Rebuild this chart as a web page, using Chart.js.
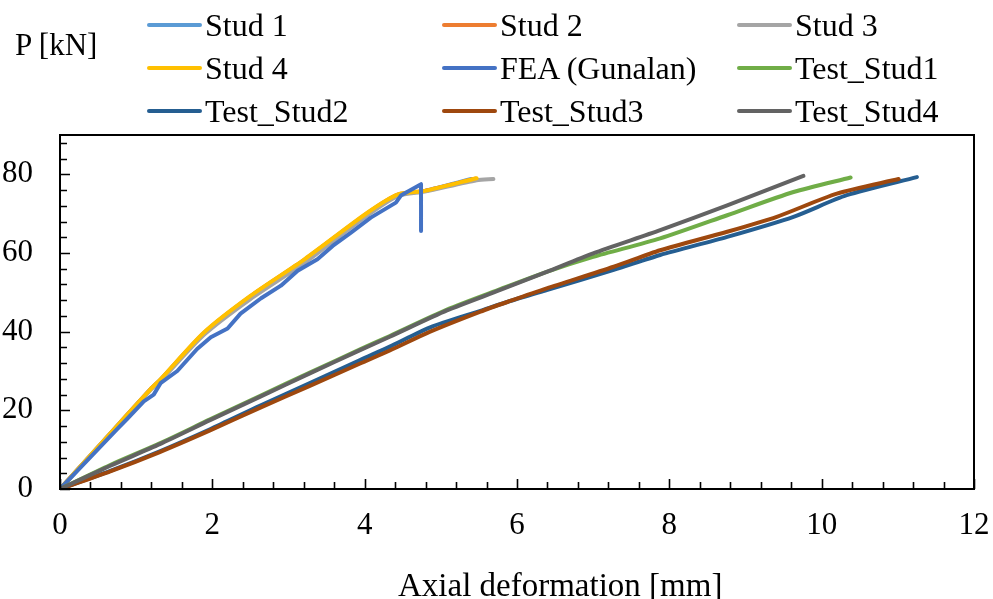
<!DOCTYPE html>
<html lang="en">
<head>
    <meta charset="UTF-8">
    <title>Axial load vs deformation</title>
    <script src="https://cdn.jsdelivr.net/npm/chart.js"></script>
    <style>
        body { margin: 0; background: #fff; }
        .wrap { position: relative; width: 993px; height: 599px; font-family: 'Liberation Serif', 'Times New Roman', serif; color: #000; }
        .txt { position: absolute; white-space: nowrap; }
        .item { position: absolute; height: 32px; display: flex; align-items: center; font-size: 32px; }
        .item span.ln { display: inline-block; width: 55px; height: 4px; border-radius: 2px; margin-right: 3px; }
    </style>
</head>
<body>
    <div class="wrap">
        <canvas id="chart"></canvas>
        <div class="txt" style="left:15px; top:29px; font-size:31px; line-height:31px;">P [kN]</div>
        <div class="txt" style="left:398px; top:569px; font-size:33px; line-height:33px;">Axial deformation [mm]</div>
        <div id="legend"></div>
    </div>

    <script>
        // series names and colours (Excel order)
        const seriesNames = ['Stud 1', 'Stud 2', 'Stud 3', 'Stud 4', 'FEA (Gunalan)', 'Test_Stud1', 'Test_Stud2', 'Test_Stud3', 'Test_Stud4'];
        const seriesColors = ['#5B9BD5', '#ED7D31', '#A5A5A5', '#FFC000', '#4472C4', '#70AD47', '#255E91', '#9E480E', '#636363'];

        // axial deformation [mm] / load P [kN]
        const stud1X = [0, 0.79, 1.19, 1.32, 1.89, 2.50, 3.21, 4.04, 4.44, 4.79, 5.40];
        const stud1Y = [0, 16.9, 25.4, 27.8, 39.6, 48.9, 58.2, 70.1, 74.8, 75.8, 78.8];
        const stud2X = [0, 0.79, 1.19, 1.32, 1.89, 2.50, 3.21, 4.04, 4.44, 4.79, 5.45];
        const stud2Y = [0, 16.9, 25.4, 27.8, 39.7, 49.0, 58.3, 70.2, 74.9, 75.8, 78.9];
        const stud3X = [0, 0.79, 1.19, 1.32, 1.89, 2.50, 3.21, 4.04, 4.44, 4.79, 5.47, 5.69];
        const stud3Y = [0, 16.8, 25.2, 27.5, 39.2, 48.3, 57.5, 69.6, 74.5, 75.6, 78.5, 78.8];
        const stud4X = [0, 0.79, 1.19, 1.32, 1.89, 2.50, 3.21, 4.04, 4.44, 4.79, 5.47];
        const stud4Y = [0, 16.9, 25.4, 27.9, 39.8, 49.1, 58.4, 70.3, 74.9, 75.8, 79.0];
        const feaX = [0, 0.75, 0.88, 1.10, 1.23, 1.32, 1.54, 1.80, 1.98, 2.20, 2.37, 2.64, 2.90, 3.12, 3.38, 3.58, 3.82, 4.08, 4.41, 4.48, 4.74, 4.74];
        const feaY = [0, 15.2, 17.8, 22.3, 24.0, 26.9, 30.0, 35.6, 38.6, 40.8, 44.6, 48.5, 51.7, 55.5, 58.4, 61.8, 65.2, 69.0, 72.8, 74.7, 77.5, 65.6];
        const test1X = [0, 0.66, 1.31, 1.97, 2.63, 3.28, 3.94, 4.33, 5.08, 5.78, 6.39, 7.0, 7.88, 8.76, 9.63, 10.38];
        const test1Y = [0, 6.1, 11.6, 17.7, 23.7, 29.6, 35.5, 38.9, 45.6, 50.8, 55.2, 59.0, 63.7, 69.6, 75.5, 79.2];
        const test2X = [0, 0.66, 1.31, 1.97, 2.63, 3.28, 3.94, 4.33, 4.86, 5.52, 5.91, 6.39, 7.27, 7.88, 8.76, 9.63, 10.33, 11.25];
        const test2Y = [0, 4.6, 9.6, 15.2, 21.2, 26.9, 32.8, 36.2, 41.1, 45.3, 47.8, 50.6, 55.7, 59.5, 64.1, 69.2, 74.7, 79.3];
        const test3X = [0, 0.66, 1.31, 1.97, 2.63, 3.28, 3.94, 4.33, 4.86, 5.52, 5.91, 6.39, 7.27, 7.88, 8.76, 9.41, 10.2, 11.01];
        const test3Y = [0, 4.5, 9.4, 14.9, 20.7, 26.2, 31.9, 35.2, 40.0, 45.1, 47.8, 51.0, 56.5, 60.7, 65.4, 69.2, 75.1, 78.8];
        const test4X = [0, 0.66, 1.31, 1.97, 2.63, 3.28, 3.94, 4.33, 5.08, 5.78, 6.39, 7.0, 7.88, 8.76, 9.76];
        const test4Y = [0, 5.9, 11.4, 17.5, 23.5, 29.4, 35.3, 38.7, 45.4, 50.6, 55.2, 59.9, 65.8, 72.1, 79.6];

        // axis ticks
        const xTicks = [0, 2, 4, 6, 8, 10, 12];
        const yTicks = [0, 20, 40, 60, 80];
        const xMinor = 0.4;
        const yMinor = 4;

        const seriesX = [stud1X, stud2X, stud3X, stud4X, feaX, test1X, test2X, test3X, test4X];
        const seriesY = [stud1Y, stud2Y, stud3Y, stud4Y, feaY, test1Y, test2Y, test3Y, test4Y];

        const datasets = seriesNames.map((name, i) => ({
            label: name,
            data: seriesX[i].map((x, j) => ({ x: x, y: seriesY[i][j] })),
            borderColor: seriesColors[i],
            backgroundColor: seriesColors[i],
            borderWidth: 4,
            borderCapStyle: 'round',
            borderJoinStyle: 'round',
            pointRadius: 0,
            showLine: true,
            tension: name.startsWith('FEA') ? 0 : 0.25,
            order: seriesNames.length - i   // later series on top, like Excel
        }));

        // legend in 3 columns
        const legend = document.getElementById('legend');
        seriesNames.forEach((name, i) => {
            const el = document.createElement('div');
            el.className = 'item';
            el.style.left = (147 + (i % 3) * 295) + 'px';
            el.style.top = (9 + Math.floor(i / 3) * 43) + 'px';
            el.innerHTML = '<span class="ln" style="background:' + seriesColors[i] + '"></span>' + name;
            legend.appendChild(el);
        });

        // frame + inward tick marks
        const frameTicks = {
            id: 'frameTicks',
            afterDatasetsDraw(chart) {
                const { ctx, chartArea: a, scales: { x, y } } = chart;
                ctx.save();
                ctx.strokeStyle = '#000';
                ctx.lineWidth = 2;
                ctx.strokeRect(a.left, a.top, a.right - a.left, a.bottom - a.top);
                ctx.lineWidth = 1.6;
                ctx.beginPath();
                for (let k = 0; k * xMinor <= 12.0001; k++) {
                    const v = k * xMinor;
                    const px = Math.round(x.getPixelForValue(v)) + 0.5;
                    const len = xTicks.some(t => Math.abs(t - v) < 1e-6) ? 10 : 7;
                    ctx.moveTo(px, a.bottom);
                    ctx.lineTo(px, a.bottom - len);
                }
                for (let k = 0; k * yMinor < 90; k++) {
                    const v = k * yMinor;
                    const py = Math.round(y.getPixelForValue(v)) + 0.5;
                    const len = yTicks.includes(v) ? 10 : 7;
                    ctx.moveTo(a.left, py);
                    ctx.lineTo(a.left + len, py);
                }
                ctx.stroke();
                ctx.restore();
            }
        };

        const tickFont = { family: "'Liberation Serif', 'Times New Roman', serif", size: 31 };

        new Chart(document.getElementById('chart'), {
            type: 'scatter',
            data: { datasets: datasets },
            options: {
                responsive: true,
                maintainAspectRatio: false,
                animation: false,
                layout: { padding: { top: 135, right: 19, left: 0, bottom: 0 } },
                scales: {
                    x: {
                        type: 'linear',
                        min: 0,
                        max: 12,
                        afterBuildTicks: s => { s.ticks = xTicks.map(v => ({ value: v })); },
                        afterFit: s => { s.height = 110; s.paddingLeft = 0; s.paddingRight = 0; },
                        grid: { display: false, drawTicks: false },
                        border: { display: false },
                        ticks: { color: '#000', font: tickFont, padding: 18, maxRotation: 0, autoSkip: false }
                    },
                    y: {
                        min: 0,
                        max: 90,
                        afterBuildTicks: s => { s.ticks = yTicks.map(v => ({ value: v })); },
                        afterFit: s => { s.width = 60; s.paddingTop = 0; s.paddingBottom = 0; },
                        grid: { display: false, drawTicks: false },
                        border: { display: false },
                        ticks: { color: '#000', font: tickFont, padding: 27 }
                    }
                },
                plugins: {
                    legend: { display: false },
                    tooltip: { enabled: false }
                }
            },
            plugins: [frameTicks]
        });
    </script>
</body>
</html>
